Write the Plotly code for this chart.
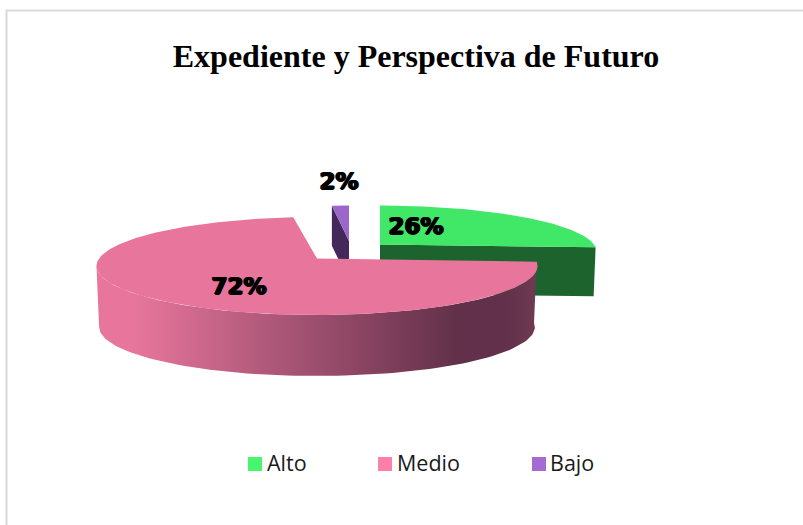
import math
import plotly.graph_objects as go

# ---- data ----
categories = ["Alto", "Medio", "Bajo"]
values = [26, 72, 2]
title_text = "Expediente y Perspectiva de Futuro"

# ---- styles ----
top_colors = ["#41E868", "#E8769C", "#9B67C8"]
side_colors = ["#1C632D", None, "#42295A"]
legend_colors = ["#47F56F", "#FF7FA8", "#A56BD3"]
medio_side_scale = [[0, "#E8769C"], [0.08, "#E8769C"], [0.82, "#62304A"], [0.93, "#62304A"], [1, "#6E3B52"]]

# ---- projection of the tilted, exploded pie (page pixels) ----
K = 0.151
geom = {  # apex x, apex y, radius x, radius y, thickness
    "Alto": (380, 244.5, 214, 44.8, 49),
    "Medio": (317, 258.6, 218, 47.9, 61),
    "Bajo": (349, 241, 157, 40.8, 40),
}
label_pos = {"Alto": (416, 228), "Medio": (239, 288), "Bajo": (339, 183)}
legend_x = {"Alto": 255, "Medio": 385, "Bajo": 539}
legend_text_x = {"Alto": 267, "Medio": 397, "Bajo": 550}
LEGEND_Y = 464
LEGEND_TEXT_Y = 466


def project(name, theta_deg, dy=0.0, xscale=1.0):
    ax, ay, a, b, _ = geom[name]
    t = math.radians(theta_deg)
    u, v = math.sin(t), math.cos(t)
    s = 1 / (1 + K * v)
    return ax + a * xscale * u * s, ay - b * v * s + dy


def arc(name, t0, t1, dy=0.0, xscale=1.0, n=90):
    pts = [project(name, t0 + (t1 - t0) * i / n, dy, xscale) for i in range(n + 1)]
    return [p[0] for p in pts], [p[1] for p in pts]


def poly(xs, ys, **kw):
    return go.Scatter(x=xs, y=ys, mode="lines", fill="toself", line=dict(width=0),
                      hoverinfo="skip", showlegend=False, **kw)


# slice angles (clockwise from north) follow the values
total = sum(values)
angles = {}
start = 0.0
for c, v in zip(categories, values):
    angles[c] = (start, start + 360.0 * v / total)
    start = angles[c][1]

fig = go.Figure()

# Alto: side and top
name = "Alto"
t0, t1 = angles[name]
ax, ay, _, _, th = geom[name]
ex, ey = project(name, t1)
fig.add_trace(poly([ax, ex, ex - 2, ax], [ay, ey, ey + th, ay + th], fillcolor=side_colors[0]))
xs, ys = arc(name, t0, t1)
fig.add_trace(poly([ax] + xs + [ax], [ay] + ys + [ay], fillcolor=top_colors[0]))

# Bajo: cut face and top
name = "Bajo"
t0, t1 = angles[name]
ax, ay, _, _, th = geom[name]
sx, sy = project(name, t0)
fig.add_trace(poly([sx, ax, ax, sx], [sy, ay, ay + th, sy + th], fillcolor=side_colors[2]))
xs, ys = arc(name, t0, t1)
fig.add_trace(poly([ax] + xs + [ax], [ay] + ys + [ay], fillcolor=top_colors[2]))

# Medio: rim with horizontal gradient and top (rim stops at the projected left extreme)
name = "Medio"
t0, t1 = angles[name]
ax, ay, _, _, th = geom[name]
RIM_END = 261.3
xs, ys = arc(name, t0, RIM_END)
xb, yb = arc(name, t0, RIM_END, dy=th, xscale=0.988)
fig.add_trace(go.Scatter(
    x=xs + xb[::-1], y=ys + yb[::-1], mode="lines", fill="toself", line=dict(width=0),
    fillgradient=dict(type="horizontal", colorscale=medio_side_scale),
    hoverinfo="skip", showlegend=False))
xs, ys = arc(name, t0, t1, n=240)
fig.add_trace(poly([ax] + xs + [ax], [ay] + ys + [ay], fillcolor=top_colors[1]))

# percentage labels
fig.add_trace(go.Scatter(
    x=[label_pos[c][0] for c in categories], y=[label_pos[c][1] for c in categories],
    mode="text", text=[f"{v}%" for v in values], textposition="middle center",
    textfont=dict(family="DejaVu Sans", size=23, color="#000000", weight="bold",
                  shadow="1px 0 0 #000, -1px 0 0 #000, 0 1px 0 #000"),
    hoverinfo="skip", showlegend=False))

# legend keys and their labels
for c, col in zip(categories, legend_colors):
    fig.add_trace(go.Scatter(
        x=[legend_x[c]], y=[LEGEND_Y], mode="markers",
        marker=dict(symbol="square", size=14, color=col, line=dict(width=0)),
        hoverinfo="skip", showlegend=False))
    fig.add_trace(go.Scatter(
        x=[legend_text_x[c]], y=[LEGEND_TEXT_Y], mode="text", text=[c], textposition="middle right",
        textfont=dict(family="Open Sans", size=21.5, color="#1a1a1a"),
        hoverinfo="skip", showlegend=False))

fig.update_layout(
    width=803, height=525, margin=dict(l=0, r=0, t=0, b=0),
    paper_bgcolor="#FFFFFF", plot_bgcolor="#FFFFFF", showlegend=False,
    xaxis=dict(visible=False, range=[0, 803], fixedrange=True),
    yaxis=dict(visible=False, range=[525, 0], fixedrange=True),
    title=dict(text=title_text, x=416 / 803, xanchor="center", y=1 - 56 / 525, yanchor="middle",
               font=dict(family="Liberation Serif", size=32, color="#000000", weight="bold")),
    shapes=[dict(type="path", path="M 6.5 525 L 6.5 10.5 L 803 10.5", xref="x", yref="y",
                 line=dict(color="#D9D9D9", width=2), layer="below")],
)

fig.write_html("out.html", config={"displayModeBar": False},
               post_script="document.body.style.margin='0';")
